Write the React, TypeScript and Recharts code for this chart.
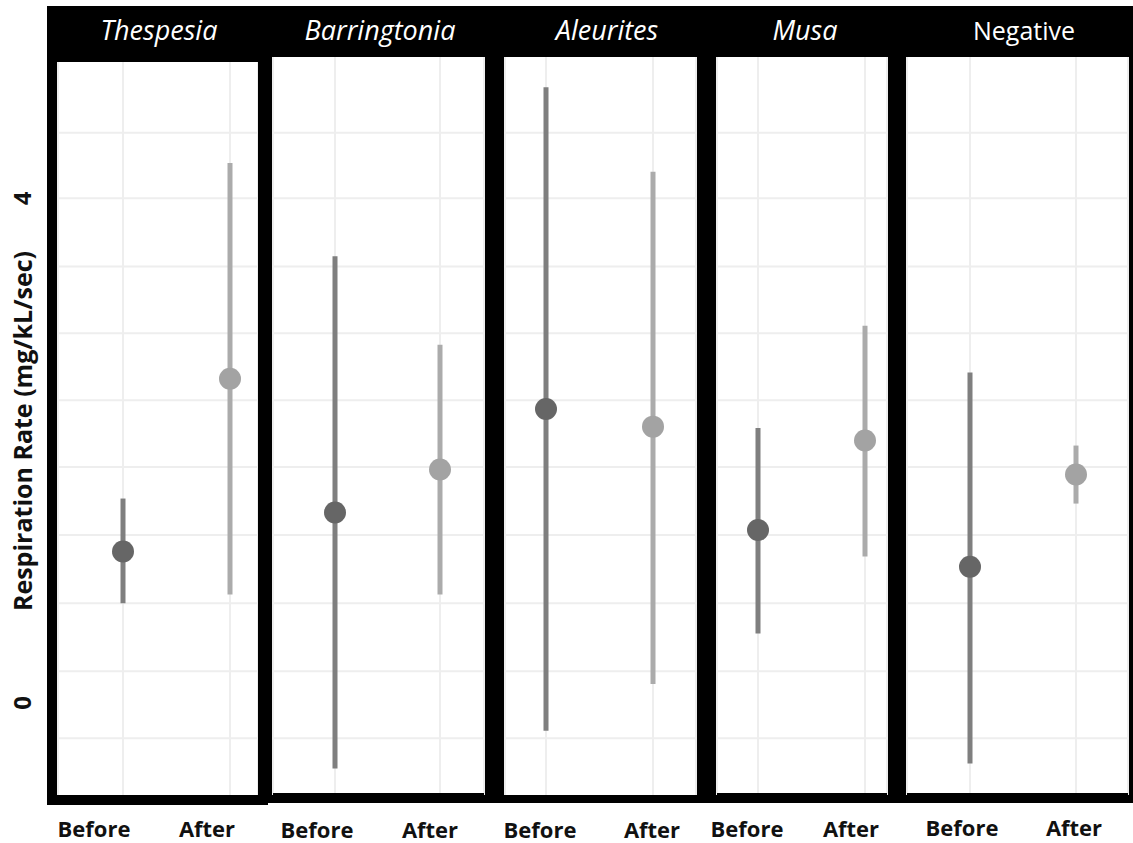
import React from 'react';
import { ComposedChart, Line, ErrorBar, XAxis, YAxis, CartesianGrid } from 'recharts';

// values (respiration rate, mg/kL/sec)
const panels = ['Thespesia', 'Barringtonia', 'Aleurites', 'Musa', 'Negative'];
const italicPanel = [true, true, true, true, false];
const conditions = ['Before', 'After'];

const beforeMean = [1.2, 1.51, 2.33, 1.37, 1.08];
const beforeLow = [0.79, -0.52, -0.22, 0.55, -0.48];
const beforeHigh = [1.62, 3.54, 4.88, 2.18, 2.62];

const afterMean = [2.57, 1.85, 2.19, 2.08, 1.81];
const afterLow = [0.86, 0.86, 0.15, 1.16, 1.58];
const afterHigh = [4.28, 2.84, 4.21, 2.99, 2.04];

const yTicks = [0, 4];
const gridValues = [4.52, 4.0, 3.46, 2.93, 2.4, 1.87, 1.33, 0.79, 0.25, -0.28];
const Y_DOMAIN: [number, number] = [-0.73, 5.12];

// pixel layout of the pasted-together panels
const layout = [
  { left: 58, right: 258, top: 62, bottom: 795, pts: [123, 230], labels: [94, 207], labelY: 828, title: 159 },
  { left: 273, right: 484, top: 57, bottom: 793, pts: [335, 440], labels: [317, 430], labelY: 829, title: 380 },
  { left: 505, right: 696, top: 57, bottom: 795, pts: [546, 653], labels: [540, 652], labelY: 829, title: 607 },
  { left: 717, right: 887, top: 57, bottom: 793, pts: [758, 865], labels: [747, 851], labelY: 828, title: 805 },
  { left: 907, right: 1128, top: 57, bottom: 793, pts: [970, 1076], labels: [962, 1074], labelY: 827, title: 1024 },
];

const PLOT_TOP = 57;
const PLOT_BOTTOM = 795;
const CHART_H = 843 - PLOT_TOP;
const AXIS_W = 58;
const SIDE = 25;
const FONT = "'Open Sans', 'DejaVu Sans', sans-serif";

const BEFORE_DOT = '#666666';
const BEFORE_BAR = '#7f7f7f';
const AFTER_DOT = '#a3a3a3';
const AFTER_BAR = '#ababab';

function buildRows(i: number) {
  return [
    { cond: conditions[0], mean: beforeMean[i], err: [beforeMean[i] - beforeLow[i], beforeHigh[i] - beforeMean[i]] },
    { cond: conditions[1], mean: afterMean[i], err: [afterMean[i] - afterLow[i], afterHigh[i] - afterMean[i]] },
  ];
}

function Panel({ i }: { i: number }) {
  const l = layout[i];
  const first = i === 0;
  const chartLeft = first ? 0 : l.left - SIDE;
  const width = first ? l.right : l.right - l.left + SIDE * 2;

  const renderTick = (props: any) => {
    const idx = conditions.indexOf(props.payload.value);
    return (
      <text
        x={l.labels[idx] - chartLeft}
        y={l.labelY - PLOT_TOP}
        textAnchor="middle"
        dominantBaseline="central"
        fontFamily={FONT}
        fontWeight={700}
        fontSize={22}
        fill="#111"
      >
        {props.payload.value}
      </text>
    );
  };

  const renderYTick = (props: any) => (
    <text
      x={22}
      y={props.y}
      transform={`rotate(-90, 22, ${props.y})`}
      textAnchor="middle"
      dominantBaseline="central"
      fontFamily={FONT}
      fontWeight={700}
      fontSize={24}
      fill="#111"
    >
      {props.payload.value}
    </text>
  );

  const renderDot = (p: any) => (
    <circle
      key={`dot-${p.index}`}
      cx={p.cx}
      cy={p.cy}
      r={11}
      fill={p.payload.cond === 'Before' ? BEFORE_DOT : AFTER_DOT}
    />
  );

  return (
    <div style={{ position: 'absolute', left: chartLeft, top: PLOT_TOP }}>
      <ComposedChart
        width={width}
        height={CHART_H}
        data={buildRows(i)}
        margin={{ top: 0, bottom: 0, left: first ? 0 : SIDE, right: first ? 0 : SIDE }}
      >
        <CartesianGrid horizontalValues={gridValues} stroke="#eeeeee" strokeWidth={2} />
        <XAxis
          dataKey="cond"
          scale="point"
          padding={{ left: l.pts[0] - l.left, right: l.right - l.pts[1] }}
          height={CHART_H - (PLOT_BOTTOM - PLOT_TOP)}
          axisLine={false}
          tickLine={false}
          interval={0}
          tick={renderTick}
        />
        <YAxis
          type="number"
          domain={Y_DOMAIN}
          allowDataOverflow
          ticks={yTicks}
          hide={!first}
          width={AXIS_W}
          axisLine={false}
          tickLine={false}
          tick={renderYTick}
        />
        <Line dataKey="mean" stroke="none" isAnimationActive={false} dot={renderDot} activeDot={false}>
          <ErrorBar
            dataKey={(r: any) => (r.cond === 'Before' ? r.err : [0, 0])}
            direction="y"
            width={0}
            strokeWidth={5}
            stroke={BEFORE_BAR}
            isAnimationActive={false}
          />
          <ErrorBar
            dataKey={(r: any) => (r.cond === 'After' ? r.err : [0, 0])}
            direction="y"
            width={0}
            strokeWidth={5}
            stroke={AFTER_BAR}
            isAnimationActive={false}
          />
        </Line>
      </ComposedChart>
    </div>
  );
}

export default function App() {
  return (
    <div style={{ position: 'absolute', left: 0, top: 0, width: 1133, height: 843, background: '#fff' }}>
      {/* black frame */}
      <div style={{ position: 'absolute', left: 47, top: 6, width: 1133 - 47, height: 803 - 6, background: '#000' }} />
      <div style={{ position: 'absolute', left: 47, top: 800, width: 268 - 47, height: 5, background: '#000' }} />
      {layout.map((l, i) => (
        <div
          key={`w${i}`}
          style={{ position: 'absolute', left: l.left, top: l.top, width: l.right - l.left, height: l.bottom - l.top, background: '#fff' }}
        />
      ))}

      {layout.map((_, i) => (
        <Panel key={`p${i}`} i={i} />
      ))}

      {/* header strips drawn over the charts */}
      <div style={{ position: 'absolute', left: 47, top: 6, width: 1133 - 47, height: PLOT_TOP - 6, background: '#000' }} />
      <div style={{ position: 'absolute', left: 47, top: PLOT_TOP, width: 268 - 47, height: 62 - PLOT_TOP, background: '#000' }} />
      {layout.map((l, i) =>
        l.bottom < PLOT_BOTTOM ? (
          <div
            key={`b${i}`}
            style={{ position: 'absolute', left: l.left, top: l.bottom, width: l.right - l.left, height: PLOT_BOTTOM - l.bottom + 1, background: '#000' }}
          />
        ) : null
      )}
      {panels.map((name, i) => (
        <div
          key={`t${i}`}
          style={{
            position: 'absolute',
            left: layout[i].title - 110,
            width: 220,
            top: 12,
            textAlign: 'center',
            color: '#fff',
            fontFamily: FONT,
            fontStyle: italicPanel[i] ? 'italic' : 'normal',
            fontSize: italicPanel[i] ? 27 : 25,
            lineHeight: '36px',
          }}
        >
          {name}
        </div>
      ))}

      {/* y-axis title */}
      <svg style={{ position: 'absolute', left: 0, top: 0 }} width={47} height={843}>
        <text
          x={22}
          y={431}
          transform="rotate(-90, 22, 431)"
          textAnchor="middle"
          dominantBaseline="central"
          fontFamily={FONT}
          fontWeight={700}
          fontSize={25}
          fill="#111"
        >
          Respiration Rate (mg/kL/sec)
        </text>
      </svg>
    </div>
  );
}
